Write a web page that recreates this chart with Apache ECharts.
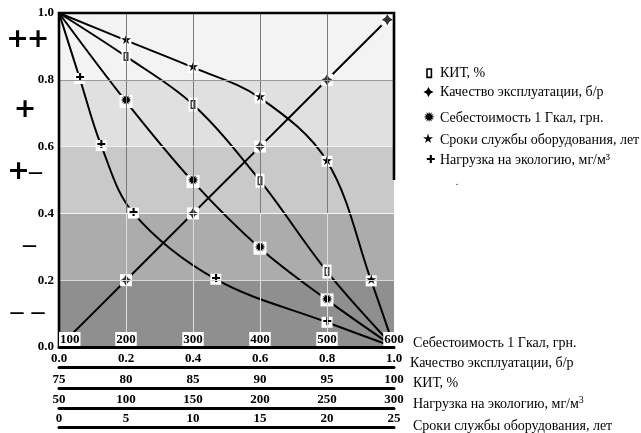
<!DOCTYPE html>
<html><head><meta charset="utf-8">
<script src="https://cdn.jsdelivr.net/npm/echarts@6/dist/echarts.min.js"></script>
<style>html,body{margin:0;padding:0;background:#fff}#c{width:641px;height:433px}</style>
</head><body><div id="c"></div>
<script>
// ---- tick labels of the scales ----
const costTicks = [100, 200, 300, 400, 500, 600];          // Себестоимость 1 Гкал, грн.
const qualityTicks = [0.0, 0.2, 0.4, 0.6, 0.8, 1.0];      // Качество эксплуатации, б/р
const kitTicks = [75, 80, 85, 90, 95, 100];               // КИТ, %
const ecoTicks = [50, 100, 150, 200, 250, 300];           // Нагрузка на экологию
const lifeTicks = [0, 5, 10, 15, 20, 25];                 // Сроки службы
const scoreTicks = [0.0, 0.2, 0.4, 0.6, 0.8, 1.0];        // vertical scale
const gradeLabels = ['+ +', '+', '+–', '–', '– –'];       // top to bottom

// ---- series (x on cost scale, y on score scale) ----
const kitX  = [100, 200, 300, 400, 500, 600];
const kitY  = [1.0, 0.87, 0.726, 0.498, 0.226, 0.0];
const qualX = [100, 200, 300, 400, 500, 590];
const qualY = [0.0, 0.2, 0.4, 0.6, 0.8, 0.98];
const costX = [100, 200, 300, 400, 500, 600];
const costY = [1.0, 0.735, 0.495, 0.296, 0.141, 0.0];
const lifeX = [100, 200, 300, 400, 500, 566, 600];
const lifeY = [1.0, 0.918, 0.837, 0.746, 0.556, 0.198, 0.0];
const ecoX  = [100, 131, 163, 211, 334, 500, 600];
const ecoY  = [1.0, 0.804, 0.603, 0.401, 0.203, 0.074, 0.0];

const seriesNames = ['КИТ, %', 'Качество эксплуатации, б/р', 'Себестоимость 1 Гкал, грн.', 'Сроки службы оборудования, лет', 'Нагрузка на экологию, мг/м³'];
const axisTitles = ['Себестоимость 1 Гкал, грн.', 'Качество эксплуатации, б/р', 'КИТ, %', 'Нагрузка на экологию, мг/м{s|3}', 'Сроки службы оборудования, лет'];

const glyphs = ['', '', '✹', '★', '✚'];
const glyphSize = [12, 17, 14, 13, 11];
const boxSize = [[9, 14], [12, 12], [13, 13], [11, 11], [11, 11]];
const bandColors = ['#8f8f8f', '#acacac', '#c9c9c9', '#e0e0e0', '#f3f3f3']; // bottom to top
const kitPath = 'path://M0,0H6V10H0Z M1.6,1.6V8.4H4.4V1.6Z';
const diamondPath = 'path://M5,0L6.9,3.1L10,5L6.9,6.9L5,10L3.1,6.9L0,5L3.1,3.1Z';
const diamondPts = [[0, -5], [1.8, -1.8], [5, 0], [1.8, 1.8], [0, 5], [-1.8, 1.8], [-5, 0], [-1.8, -1.8]];

const SERIF = 'Liberation Serif';
const chart = echarts.init(document.getElementById('c'), null, {renderer: 'canvas'});

const xs = [kitX, qualX, costX, lifeX, ecoX];
const ys = [kitY, qualY, costY, lifeY, ecoY];

function isCorner(x, y) { return (x === 100 && (y === 1 || y === 0)) || (x === 600 && y === 0); }

const lineSeries = xs.map((X, i) => ({
  type: 'line', name: seriesNames[i], smooth: 0.35, z: 3,
  data: X.map((x, j) => {
    const c = isCorner(x, ys[i][j]);
    return { value: [x, ys[i][j]], symbol: c ? 'none' : 'rect', label: { show: !c && glyphs[i] !== '' } };
  }),
  symbol: 'rect', symbolSize: boxSize[i], showAllSymbol: true,
  itemStyle: { color: '#fff', borderWidth: 0 },
  lineStyle: { color: '#000', width: 2 },
  label: { show: true, position: 'inside', formatter: glyphs[i], color: '#000',
           fontFamily: 'DejaVu Sans', fontSize: glyphSize[i] },
  emphasis: { disabled: true }, silent: true, animation: false
}));

function glyphSeries(X, Y, sym, size) {
  return {
    type: 'scatter', z: 4, silent: true, symbol: sym, symbolSize: size,
    itemStyle: { color: '#000' }, animation: false,
    data: X.map((x, j) => [x, Y[j]]).filter(p => !isCorner(p[0], p[1]))
  };
}
const kitGlyphs = glyphSeries(kitX, kitY, kitPath, [5, 9]);
const qualGlyphs = glyphSeries(qualX, qualY, diamondPath, [11, 11]);

// grid lines (markLine on a background series)
const gridLines = [];
costTicks.slice(1, -1).forEach(x => {
  gridLines.push([{ coord: [x, 0], lineStyle: { color: '#dedede' } }, { coord: [x, 0.4] }]);
  gridLines.push([{ coord: [x, 0.4], lineStyle: { color: '#7a7a7a' } }, { coord: [x, 1.0] }]);
});
const hColors = { '0.2': '#d8d8d8', '0.4': '#f4f4f4', '0.6': '#f0f0f0', '0.8': '#9a9a9a' };
scoreTicks.slice(1, -1).forEach(y => {
  gridLines.push([{ coord: [100, y], lineStyle: { color: hColors[y.toFixed(1)] } }, { coord: [600, y] }]);
});

const bgSeries = {
  type: 'line', z: 1, data: [[100, 0]], symbol: 'none', lineStyle: { opacity: 0 }, silent: true,
  markLine: { silent: true, symbol: ['none', 'none'], label: { show: false }, animation: false,
              lineStyle: { width: 1, type: 'solid' }, data: gridLines }
};

const numFont = { fontFamily: SERIF, fontWeight: 'bold', fontSize: 13, color: '#000' };

function rowAxis(min, max, interval, offset, fmt) {
  return {
    type: 'value', position: 'bottom', offset, min, max, interval, gridIndex: 0,
    axisLine: { show: true, onZero: false, lineStyle: { color: '#000', width: 3 } },
    axisTick: { show: false }, splitLine: { show: false },
    axisLabel: Object.assign({ inside: true, margin: 2, formatter: fmt }, numFont)
  };
}

const option = {
  backgroundColor: '#fff',
  animation: false,
  grid: { left: 59, top: 13, width: 335, height: 334 },
  xAxis: [
    {
      type: 'value', position: 'bottom', min: costTicks[0], max: costTicks[costTicks.length - 1], interval: 100, z: 6,
      axisLine: { show: true, onZero: false, lineStyle: { color: '#000', width: 3 } },
      axisTick: { show: false }, splitLine: { show: false },
      axisLabel: Object.assign({ inside: true, margin: 1, backgroundColor: '#fff', padding: [1, 1, 0, 1],
                                 alignMinLabel: 'left' }, numFont)
    },
    rowAxis(qualityTicks[0], qualityTicks[5], 0.2, 20, v => v.toFixed(1)),
    rowAxis(kitTicks[0], kitTicks[5], 5, 41, v => String(v)),
    rowAxis(ecoTicks[0], ecoTicks[5], 50, 61, v => String(v)),
    rowAxis(lifeTicks[0], lifeTicks[5], 5, 80, v => String(v))
  ],
  yAxis: {
    type: 'value', min: scoreTicks[0], max: scoreTicks[5], interval: 0.2,
    axisLine: { show: false }, axisTick: { show: false }, splitLine: { show: false },
    splitArea: { show: true, areaStyle: { color: bandColors } },
    axisLabel: Object.assign({ margin: 5, padding: [0, 0, 4, 0], formatter: v => v.toFixed(1) }, numFont)
  },
  series: [bgSeries].concat(lineSeries, [kitGlyphs, qualGlyphs])
};
chart.setOption(option);

// ---- frame, left grade marks, legend, axis titles ----
const tl = chart.convertToPixel({ gridIndex: 0 }, [100, 1.0]);
const br = chart.convertToPixel({ gridIndex: 0 }, [600, 0.0]);
const rmid = chart.convertToPixel({ gridIndex: 0 }, [600, 0.5]);

const g = [];
g.push({ type: 'polyline', z: 5, silent: true,
  shape: { points: [[br[0], rmid[1]], [br[0], tl[1]], [tl[0], tl[1]], [tl[0], br[1]]] },
  style: { stroke: '#000', lineWidth: 2.6, fill: null } });

// grade marks beside the bands
const gradePos = [[[17.5, 40], [38, 40]], [[25, 110]], [[18.5, 172], [35.5, 172]], [[29.5, 245]], [[17, 312], [38, 312]]];
gradeLabels.forEach((lab, i) => {
  const parts = lab.replace(/ /g, '').split('');
  parts.forEach((p, k) => {
    const pos = gradePos[i][k];
    const isPlus = p === '+';
    g.push({ type: 'text', x: pos[0], y: pos[1], silent: true,
      style: { text: p, fill: '#000', align: 'center', verticalAlign: 'middle',
               font: isPlus ? 'bold 27px "DejaVu Sans"' : 'bold 26px "Liberation Serif"' } });
  });
});

// legend
const legY = [73, 92, 118, 140, 160];
const legGX = [429, 428.5, 429, 428, 430.5];
seriesNames.forEach((n, i) => {
  if (i === 0) {
    g.push({ type: 'rect', silent: true,
      shape: { x: legGX[i] - 2, y: legY[i] - 4, width: 4.4, height: 8.4 },
      style: { fill: null, stroke: '#000', lineWidth: 1.6 } });
  } else if (i === 1) {
    g.push({ type: 'polygon', silent: true,
      shape: { points: diamondPts.map(p => [legGX[i] + p[0], legY[i] + p[1]]) },
      style: { fill: '#000' } });
  } else {
    g.push({ type: 'text', x: legGX[i], y: legY[i], silent: true,
      style: { text: glyphs[i], fill: '#000', align: 'center', verticalAlign: 'middle',
               font: glyphSize[i] + 'px "DejaVu Sans"' } });
  }
  g.push({ type: 'text', x: 440, y: legY[i], silent: true,
    style: { text: n, fill: '#000', align: 'left', verticalAlign: 'middle', font: '14px "Liberation Serif"' } });
});
g.push({ type: 'text', x: 457, y: 182, silent: true,
  style: { text: '.', fill: '#000', align: 'center', verticalAlign: 'middle', font: '10px "Liberation Serif"' } });

// titles of the five scales
const titleY = [343, 363, 383, 404, 426];
const titleX = [413, 410, 413, 413, 413];
axisTitles.forEach((t, i) => {
  g.push({ type: 'text', x: titleX[i], y: titleY[i], silent: true,
    style: { text: t, fill: '#000', align: 'left', verticalAlign: 'middle', font: '14px "Liberation Serif"',
             rich: { s: { fontSize: 10, fontFamily: SERIF, padding: [0, 0, 7, 0] } } } });
});

chart.setOption({ graphic: g });
</script></body></html>
